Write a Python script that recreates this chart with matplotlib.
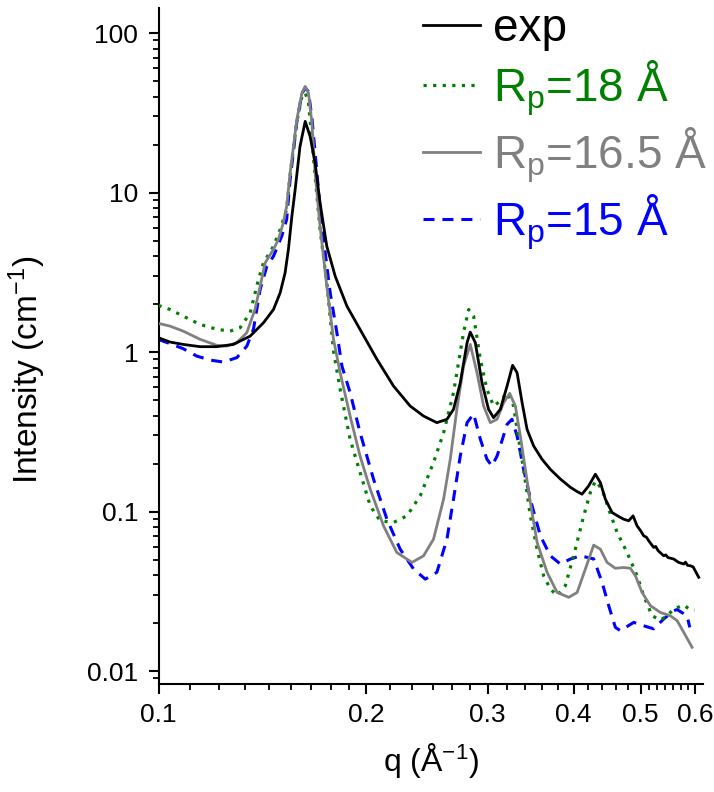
import matplotlib
matplotlib.use("Agg")
import matplotlib.pyplot as plt
from matplotlib.ticker import FixedLocator, FixedFormatter, NullFormatter, LogLocator

plt.rcParams['font.family'] = ['Liberation Sans', 'DejaVu Sans']
plt.rcParams['mathtext.default'] = 'regular'

# experimental SAXS curve
q_exp = [0.1000, 0.1039, 0.1086, 0.1149, 0.1215, 0.1284, 0.1358, 0.1420, 0.1468, 0.1501,
         0.1526, 0.1543, 0.1561, 0.1578, 0.1604, 0.1632, 0.1659, 0.1687, 0.1715, 0.1754,
         0.1804, 0.1876, 0.1960, 0.2074, 0.2192, 0.2317, 0.2423, 0.2533, 0.2620, 0.2678,
         0.2739, 0.2802, 0.2832, 0.2880, 0.2945, 0.3010, 0.3061, 0.3131, 0.3202, 0.3262,
         0.3311, 0.3367, 0.3423, 0.3499, 0.3598, 0.3700, 0.3826, 0.3956, 0.4040, 0.4113,
         0.4205, 0.4300, 0.4373, 0.4446, 0.4547, 0.4640, 0.4726, 0.4806, 0.4877, 0.4943,
         0.5000, 0.5053, 0.5100, 0.5140, 0.5225, 0.5260, 0.5300, 0.5402, 0.5440, 0.5480,
         0.5587, 0.5630, 0.5680, 0.5776, 0.5810, 0.5850, 0.5907, 0.5960, 0.6073]
I_exp = [1.23, 1.156, 1.117, 1.081, 1.081, 1.117, 1.259, 1.528, 1.85, 2.35,
         3.14, 4.40, 7.11, 10.4, 19.5, 27.96, 22.5, 15.3, 8.62, 4.61,
         2.99, 1.94, 1.387, 0.900, 0.612, 0.459, 0.397, 0.361, 0.379, 0.438,
         0.643, 1.146, 1.334, 1.146, 0.643, 0.438, 0.388, 0.438, 0.612, 0.826,
         0.743, 0.482, 0.328, 0.258, 0.213, 0.184, 0.160, 0.142, 0.134, 0.1285,
         0.145, 0.1715, 0.152, 0.1197, 0.0987, 0.0935, 0.0896, 0.0875, 0.094, 0.0813,
         0.0760, 0.0705, 0.0690, 0.0655, 0.0596, 0.0605, 0.0570, 0.0528, 0.0535, 0.0515,
         0.0504, 0.0492, 0.0480, 0.0469, 0.0482, 0.0460, 0.0457, 0.0450, 0.0387]

# model, Rp = 18 Å
q_18 = [0.1000, 0.1039, 0.1086, 0.1149, 0.1215, 0.1270, 0.1313, 0.1358, 0.1396, 0.1420,
        0.1468, 0.1501, 0.1534, 0.1552, 0.1587, 0.1614, 0.1632, 0.1650, 0.1669, 0.1687,
        0.1715, 0.1754, 0.1794, 0.1834, 0.1896, 0.1960, 0.2028, 0.2096, 0.2192, 0.2292,
        0.2396, 0.2505, 0.2591, 0.2678, 0.2769, 0.2817, 0.2864, 0.2929, 0.2994, 0.3061,
        0.3131, 0.3202, 0.3273, 0.3311, 0.3384, 0.3461, 0.3540, 0.3618, 0.3700, 0.3785,
        0.3890, 0.3999, 0.4136, 0.4229, 0.4300, 0.4398, 0.4496, 0.4624, 0.4780, 0.4943,
        0.5053, 0.5197, 0.5344, 0.5465, 0.5587, 0.5776, 0.5907, 0.5985]
I_18 = [1.96, 1.85, 1.68, 1.49, 1.39, 1.353, 1.42, 1.76, 2.85, 3.63,
        4.61, 5.87, 7.83, 13.0, 27.8, 39.9, 42.3, 36.6, 21.5, 12.6,
        5.87, 2.73, 1.01, 0.584, 0.284, 0.176, 0.1086, 0.0875, 0.0855, 0.094,
        0.1254, 0.203, 0.313, 0.557, 1.324, 1.85, 1.68, 0.90, 0.584, 0.459,
        0.493, 0.557, 0.459, 0.328, 0.184, 0.094, 0.0581, 0.0396, 0.0327, 0.0297,
        0.0343, 0.0528, 0.094, 0.1318, 0.1557, 0.138, 0.1035, 0.074, 0.0554, 0.0396,
        0.0297, 0.0222, 0.0209, 0.0222, 0.0245, 0.0259, 0.0242, 0.0240]

# model, Rp = 16.5 Å
q_165 = [0.1000, 0.1039, 0.1086, 0.1149, 0.1215, 0.1256, 0.1299, 0.1343, 0.1380, 0.1404,
         0.1428, 0.1468, 0.1492, 0.1517, 0.1534, 0.1552, 0.1587, 0.1614, 0.1632, 0.1650,
         0.1669, 0.1687, 0.1715, 0.1754, 0.1794, 0.1834, 0.1896, 0.1960, 0.2028, 0.2120,
         0.2216, 0.2331, 0.2423, 0.2505, 0.2591, 0.2649, 0.2708, 0.2769, 0.2832, 0.2896,
         0.2961, 0.3028, 0.3097, 0.3166, 0.3230, 0.3292, 0.3347, 0.3404, 0.3461, 0.3540,
         0.3660, 0.3785, 0.3935, 0.4046, 0.4159, 0.4276, 0.4373, 0.4471, 0.4597, 0.4726,
         0.4834, 0.4915, 0.5026, 0.5168, 0.5344, 0.5525, 0.5650, 0.5776, 0.5939]
I_165 = [1.513, 1.455, 1.353, 1.202, 1.102, 1.09, 1.146, 1.324, 1.85, 2.59,
         3.63, 4.40, 5.08, 6.46, 8.2, 13.3, 28.6, 42.1, 46.3, 42.1,
         27.3, 13.3, 6.15, 2.59, 1.20, 0.743, 0.397, 0.223, 0.138, 0.0813,
         0.0554, 0.0480, 0.0528, 0.0672, 0.120, 0.213, 0.438, 0.817, 1.117, 0.743,
         0.459, 0.361, 0.379, 0.482, 0.551, 0.459, 0.298, 0.184, 0.114, 0.0641,
         0.0416, 0.0311, 0.0290, 0.0311, 0.0436, 0.0616, 0.0581, 0.048, 0.0441, 0.0446,
         0.0441, 0.0396, 0.0311, 0.0257, 0.0233, 0.0222, 0.0207, 0.0175, 0.0141]

# model, Rp = 15 Å
q_15 = [0.1000, 0.1039, 0.1086, 0.1136, 0.1188, 0.1242, 0.1299, 0.1343, 0.1373, 0.1404,
        0.1436, 0.1468, 0.1509, 0.1534, 0.1552, 0.1587, 0.1614, 0.1632, 0.1650, 0.1670,
        0.1693, 0.1721, 0.1774, 0.1814, 0.1845, 0.1896, 0.1960, 0.2050, 0.2144, 0.2241,
        0.2344, 0.2437, 0.2533, 0.2620, 0.2678, 0.2739, 0.2802, 0.2864, 0.2929, 0.2994,
        0.3044, 0.3097, 0.3131, 0.3202, 0.3255, 0.3311, 0.3384, 0.3480, 0.3579, 0.3700,
        0.3826, 0.3956, 0.4091, 0.4276, 0.4398, 0.4496, 0.4597, 0.4675, 0.4888, 0.4998,
        0.5225, 0.5402, 0.5587, 0.5650, 0.5842, 0.5893]
I_15 = [1.20, 1.13, 1.05, 0.944, 0.891, 0.866, 0.923, 1.09, 1.39, 2.47,
        3.46, 3.99, 5.33, 6.78, 12.1, 27.7, 41.6, 45.4, 42.9, 28.6,
        15.0, 6.78, 2.35, 1.324, 0.817, 0.557, 0.313, 0.160, 0.0896, 0.0581,
        0.0436, 0.0377, 0.0416, 0.0672, 0.120, 0.223, 0.361, 0.41, 0.284, 0.213,
        0.193, 0.223, 0.258, 0.352, 0.379, 0.298, 0.184, 0.109, 0.0705, 0.0528,
        0.0469, 0.0504, 0.0528, 0.0505, 0.036, 0.0257, 0.0188, 0.0179, 0.0202, 0.0195,
        0.0184, 0.0212, 0.0239, 0.0243, 0.0222, 0.0188]

labels = ['exp', r'R$_{p}$=18 Å', r'R$_{p}$=16.5 Å', r'R$_{p}$=15 Å']
colors = ['black', '#008000', '#808080', '#0000ff']

x_major = [0.1, 0.2, 0.3, 0.4, 0.5, 0.6]
x_major_labels = ['0.1', '0.2', '0.3', '0.4', '0.5', '0.6']
y_major = [0.01, 0.1, 1, 10, 100]
y_major_labels = ['0.01', '0.1', '1', '10', '100']

fig = plt.figure(figsize=(7.14, 7.92), dpi=100)
ax = fig.add_axes([0.222, 0.1364, 0.7626, 0.8531])

ax.plot(q_exp, I_exp, color=colors[0], lw=2.0, label=labels[0], zorder=4)
ax.plot(q_18, I_18, color=colors[1], lw=2.3, linestyle=(0, (1.0, 2.0)), label=labels[1], zorder=3)
ax.plot(q_165, I_165, color=colors[2], lw=2.0, label=labels[2], zorder=3)
ax.plot(q_15, I_15, color=colors[3], lw=2.2, linestyle=(0, (3.6, 2.6)), label=labels[3], zorder=2)

ax.set_xscale('log')
ax.set_yscale('log')
ax.set_xlim(0.1, 0.616)
ax.set_ylim(0.0083, 143)

# minor ticks on q: evenly spaced within each labelled interval
x_minor = ([0.1 + k * 0.1 / 9 for k in range(1, 9)] +
           [0.2 + k * 0.1 / 6 for k in range(1, 6)] +
           [0.3 + k * 0.1 / 5 for k in range(1, 5)] +
           [0.4 + k * 0.1 / 5 for k in range(1, 5)] +
           [0.5 + k * 0.1 / 7 for k in range(1, 7)])
ax.xaxis.set_major_locator(FixedLocator(x_major))
ax.xaxis.set_major_formatter(FixedFormatter(x_major_labels))
ax.xaxis.set_minor_locator(FixedLocator(x_minor))
ax.xaxis.set_minor_formatter(NullFormatter())
ax.yaxis.set_major_locator(FixedLocator(y_major))
ax.yaxis.set_major_formatter(FixedFormatter(y_major_labels))
ax.yaxis.set_minor_locator(LogLocator(base=10, subs=range(2, 10)))
ax.yaxis.set_minor_formatter(NullFormatter())

for side in ['top', 'right']:
    ax.spines[side].set_visible(False)
for side in ['left', 'bottom']:
    ax.spines[side].set_linewidth(1.5)

ax.tick_params(which='major', length=7.5, width=1.5, labelsize=19, direction='out')
ax.tick_params(which='minor', length=4, width=1.3, direction='out')
ax.tick_params(axis='y', which='major', pad=7)
ax.tick_params(axis='x', which='major', pad=6)

ax.set_xlabel(r'q (Å$^{-1}$)', fontsize=23, labelpad=10)
ax.set_ylabel(r'Intensity (cm$^{-1}$)', fontsize=24)
ax.yaxis.set_label_coords(-0.203, 0.465)

leg = ax.legend(loc='upper left', bbox_to_anchor=(423 / 714, 1 - 7 / 792),
                bbox_transform=fig.transFigure, fontsize=33, frameon=False,
                handlelength=1.25, handletextpad=0.28, labelspacing=0.16,
                borderpad=0, borderaxespad=0, labelcolor='linecolor')

fig.savefig('out.png', dpi=100)
